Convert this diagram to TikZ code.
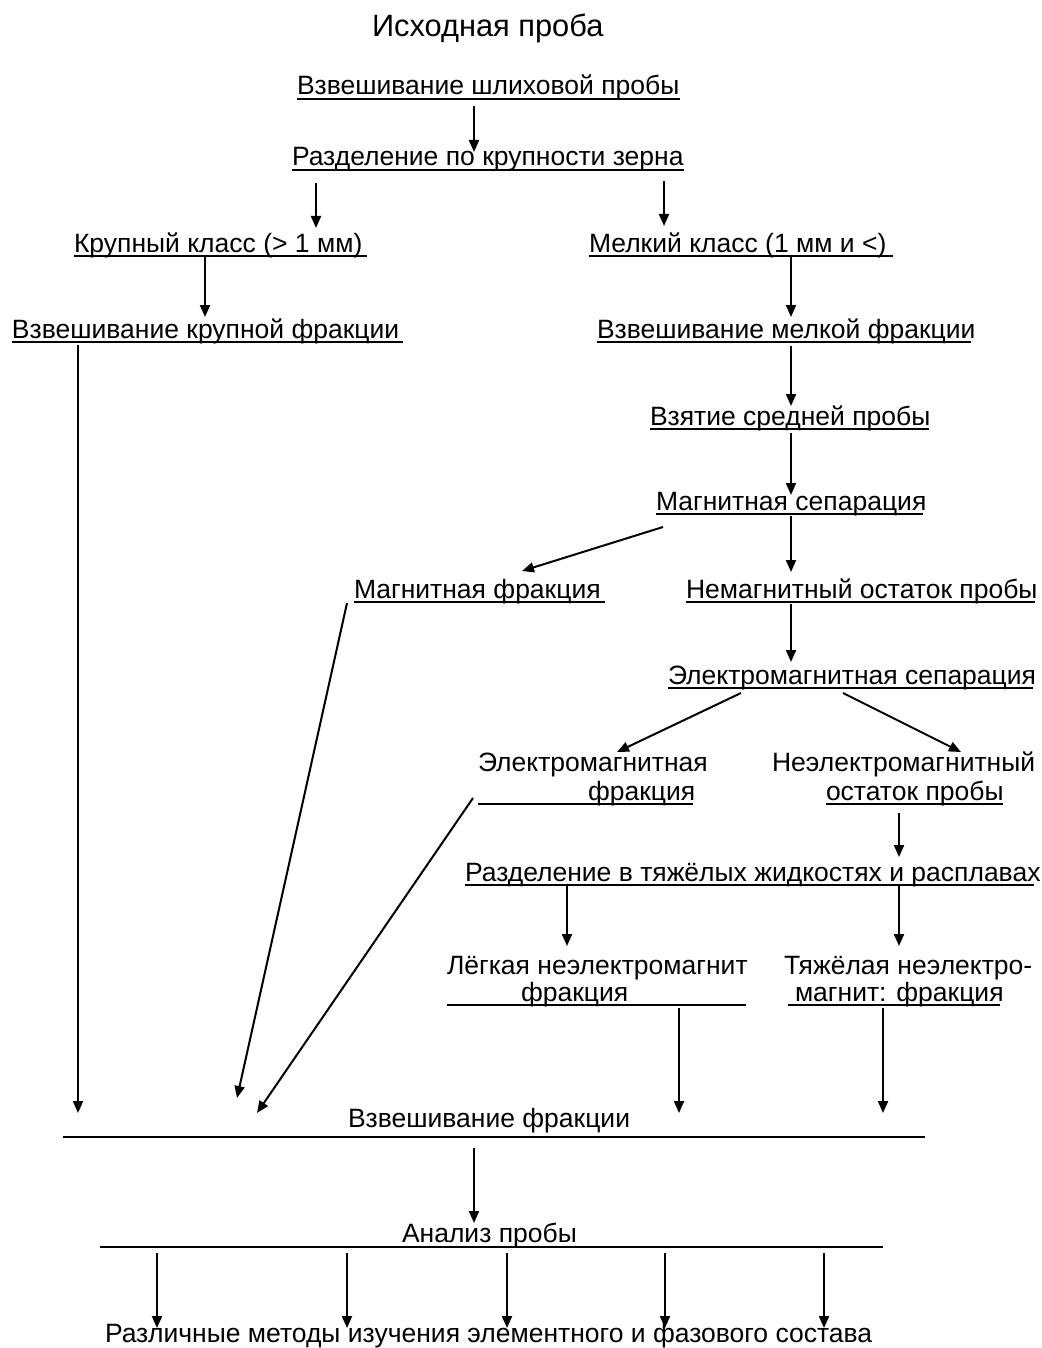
\documentclass[tikz,border=0pt]{standalone}
\usepackage{fontspec}
\setmainfont{Liberation Sans}
\usetikzlibrary{arrows.meta}
\begin{document}
\begin{tikzpicture}[x=1pt,y=-1pt,
  lbl/.style={anchor=base west,inner sep=0pt,outer sep=0pt,font=\fontsize{26.5}{30}\selectfont},
  ttl/.style={anchor=base west,inner sep=0pt,outer sep=0pt,font=\fontsize{30.8}{36}\selectfont},
  uline/.style={line width=2pt},
  arr/.style={line width=2pt,-{Triangle[length=12pt,width=10pt]}},
]
\useasboundingbox (0,0) rectangle (1041,1348);
\fill[white] (0,0) rectangle (1041,1348);

% ---------- texts ----------
\node[ttl] (title) at (372,37) {Исходная проба};
\node[lbl] (n1) at (297,95) {Взвешивание шлиховой пробы};
\node[lbl] (n2) at (292,166) {Разделение по крупности зерна};
\node[lbl] (n3) at (74,252) {Крупный класс (> 1 мм)};
\node[lbl] (n4) at (589,252) {Мелкий класс (1 мм и <)};
\node[lbl] (n5) at (12,338) {Взвешивание крупной фракции};
\node[lbl] (n6) at (597,338) {Взвешивание мелкой фракции};
\node[lbl] (n7) at (650,425) {Взятие средней пробы};
\node[lbl] (n8) at (656,510) {Магнитная сепарация};
\node[lbl] (n9) at (354,598) {Магнитная фракция};
\node[lbl] (n10) at (686,598) {Немагнитный остаток пробы};
\node[lbl] (n11) at (668,684) {Электромагнитная сепарация};
\node[lbl] (n12a) at (478,771) {Электромагнитная};
\node[lbl] (n12b) at (588,800) {фракция};
\node[lbl] (n13a) at (772,771) {Неэлектромагнитный};
\node[lbl] (n13b) at (826,800) {остаток пробы};
\node[lbl] (n14) at (465,881) {Разделение в тяжёлых жидкостях и расплавах};
\node[lbl] (n15a) at (447,974) {Лёгкая неэлектромагнит};
\node[lbl] (n15b) at (521,1001) {фракция};
\node[lbl] (n16a) at (784,974) {Тяжёлая неэлектро-};
\node[lbl] (n16b) at (795,1001) {магнит: фракция};
\node[lbl] (n17) at (348,1127) {Взвешивание фракции};
\node[lbl] (n18) at (402,1242) {Анализ пробы};
\node[lbl] (n19) at (105,1342) {Различные методы изучения элементного и фазового состава};

% ---------- underlines ----------
\draw[uline] (297,99) -- (680,99);
\draw[uline] (292,170) -- (684,170);
\draw[uline] (74,256) -- (367,256);
\draw[uline] (589,256) -- (893,256);
\draw[uline] (12,342) -- (403,342);
\draw[uline] (597,342) -- (971,342);
\draw[uline] (650,429) -- (929,429);
\draw[uline] (656,514) -- (923,514);
\draw[uline] (354,602) -- (605,602);
\draw[uline] (686,602) -- (1035,602);
\draw[uline] (668,688) -- (1033,688);
\draw[uline] (478,804) -- (693,804);
\draw[uline] (826,804) -- (1003,804);
\draw[uline] (465,885) -- (1034,885);
\draw[uline] (447,1005) -- (746,1005);
\draw[uline] (788,1005) -- (1000,1005);
\draw[uline] (63,1137) -- (925,1137);
\draw[uline] (100,1247) -- (883,1247);

% ---------- connector end points ----------
\coordinate (a1s) at (474,106);  \coordinate (a1e) at (474,152);
\coordinate (a2s) at (316,183);  \coordinate (a2e) at (316,228);
\coordinate (a3s) at (664,181);  \coordinate (a3e) at (664,226);
\coordinate (a4s) at (205,257);  \coordinate (a4e) at (205,317);
\coordinate (a5s) at (791,257);  \coordinate (a5e) at (791,317);
\coordinate (a6s) at (78,345);   \coordinate (a6e) at (78,1113);
\coordinate (a7s) at (791,346);  \coordinate (a7e) at (791,406);
\coordinate (a8s) at (791,433);  \coordinate (a8e) at (791,495);
\coordinate (a9s) at (663,527);  \coordinate (a9e) at (522,571);
\coordinate (a10s) at (791,516); \coordinate (a10e) at (791,572);
\coordinate (a11s) at (347,603); \coordinate (a11e) at (237,1098);
\coordinate (a12s) at (791,604); \coordinate (a12e) at (791,662);
\coordinate (a13s) at (741,693); \coordinate (a13e) at (617,752);
\coordinate (a14s) at (843,693); \coordinate (a14e) at (961,752);
\coordinate (a15s) at (473,798); \coordinate (a15e) at (257,1113);
\coordinate (a16s) at (899,813); \coordinate (a16e) at (899,857);
\coordinate (a17s) at (567,886); \coordinate (a17e) at (567,946);
\coordinate (a18s) at (899,886); \coordinate (a18e) at (899,946);
\coordinate (a19s) at (679,1008); \coordinate (a19e) at (679,1113);
\coordinate (a20s) at (883,1008); \coordinate (a20e) at (883,1113);
\coordinate (a21s) at (474,1148); \coordinate (a21e) at (474,1223);
\coordinate (b1s) at (157,1253); \coordinate (b1e) at (157,1328);
\coordinate (b2s) at (347,1253); \coordinate (b2e) at (347,1328);
\coordinate (b3s) at (507,1253); \coordinate (b3e) at (507,1328);
\coordinate (b4s) at (665,1253); \coordinate (b4e) at (665,1328);
\coordinate (b5s) at (824,1253); \coordinate (b5e) at (824,1328);

% ---------- connectors ----------
\foreach \a in {a1,a2,a3,a4,a5,a6,a7,a8,a9,a10,a11,a12,a13,a14,a15,a16,a17,a18,a19,a20,a21,b1,b2,b3,b4,b5}
  \draw[arr] (\a s) -- (\a e);
\end{tikzpicture}
\end{document}
